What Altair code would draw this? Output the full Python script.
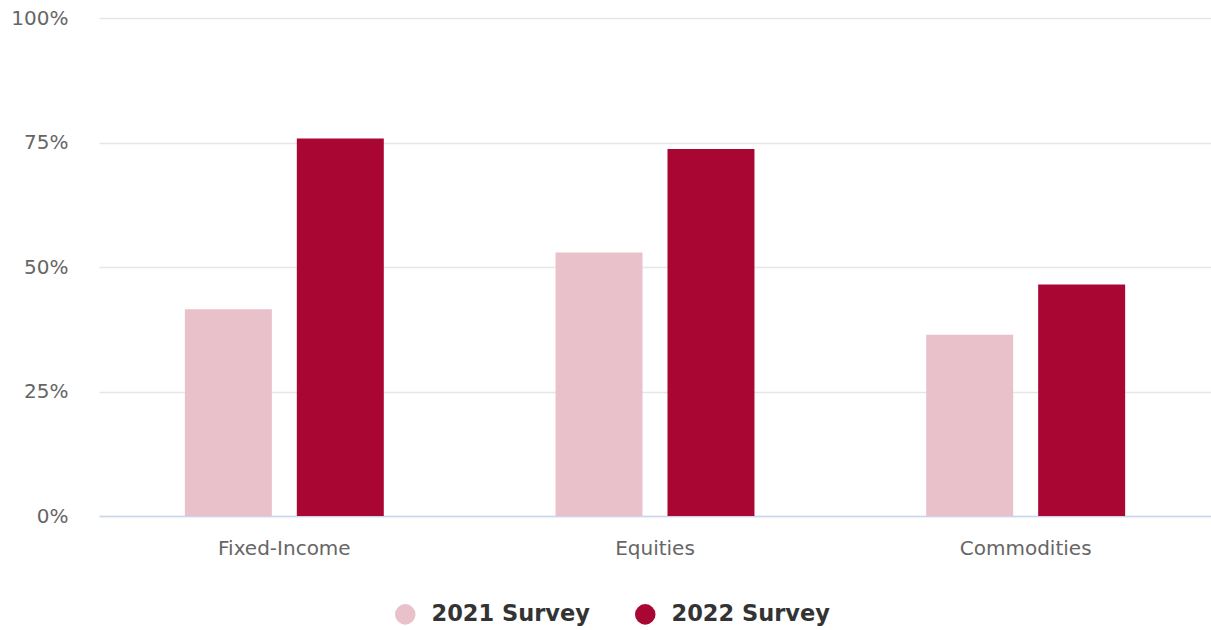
import altair as alt
import pandas as pd

categories = ["Fixed-Income", "Equities", "Commodities"]
series = ["2021 Survey", "2022 Survey"]
values_2021 = [41.5, 52.9, 36.4]
values_2022 = [75.8, 73.7, 46.5]
colors = ["#e8c1cb", "#aa0634"]

rows = []
for i, c in enumerate(categories):
    rows.append({"category": c, "series": series[0], "value": values_2021[i]})
    rows.append({"category": c, "series": series[1], "value": values_2022[i]})
df = pd.DataFrame(rows)

font = "DejaVu Sans"

chart = alt.Chart(df).mark_bar().encode(
    x=alt.X("category:N", sort=categories,
            scale=alt.Scale(paddingInner=0, paddingOuter=0),
            axis=alt.Axis(title=None, labelAngle=0, labelFont=font, labelFontSize=20,
                          labelColor="#666666", ticks=False, domainColor="#ccd6eb",
                          domainWidth=1.5, labelPadding=22, grid=False)),
    xOffset=alt.XOffset("series:N", sort=series,
                        scale=alt.Scale(paddingInner=0.223, paddingOuter=0.767)),
    y=alt.Y("value:Q", scale=alt.Scale(domain=[0, 100], nice=False),
            axis=alt.Axis(title=None, values=[0, 25, 50, 75, 100],
                          labelExpr="datum.value + '%'", labelFont=font, labelFontSize=20,
                          labelColor="#666666", ticks=False, domain=False,
                          labelPadding=31, gridColor="#e6e6e6", gridWidth=1.5)),
    color=alt.Color("series:N", sort=series,
                    scale=alt.Scale(domain=series, range=colors),
                    legend=alt.Legend(title=None, orient="none", direction="horizontal",
                                      legendX=295, legendY=585, symbolType="circle",
                                      symbolSize=420, symbolStrokeWidth=0,
                                      labelFont=font, labelFontSize=22.5,
                                      labelFontWeight="bold", labelColor="#333333",
                                      labelOffset=15, columnPadding=44)),
).properties(
    width=1112, height=498,
    background="white",
    padding={"left": 99, "top": 18, "right": 0, "bottom": 114},
    autosize=alt.AutoSizeParams(type="none"),
).configure_view(stroke="transparent", strokeWidth=0)

chart.save("out.html", embed_options={"renderer": "svg", "actions": False})
